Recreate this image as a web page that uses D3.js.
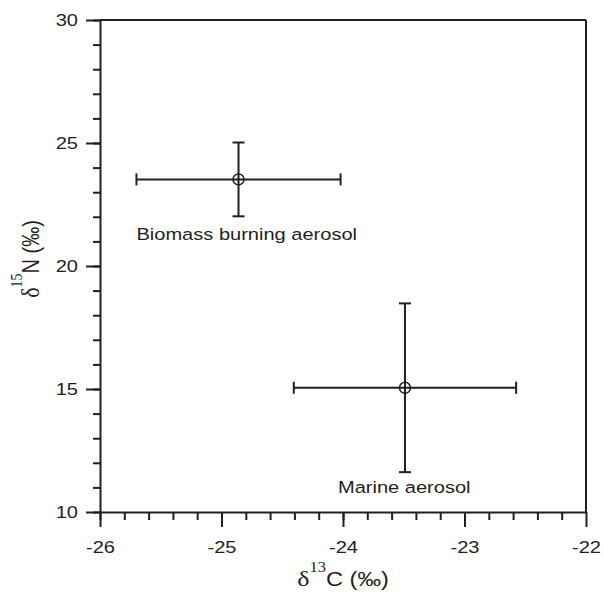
<!DOCTYPE html>
<html>
  <head>
    <script src="https://d3js.org/d3.v7.min.js"></script>
    <style>
      body { margin: 0; background: #fff; }
      text { font-family: "Liberation Sans", Arial, sans-serif; fill: #231f20; }
      .serif { font-family: "Liberation Serif", "Times New Roman", serif; }
    </style>
  </head>
  <body>
    <div id="chart"></div>
    <script>
      // Data
      const groups = ["Biomass burning aerosol", "Marine aerosol"];
      const d13C = [-24.86, -23.49];
      const d13CErr = [0.84, 0.915];
      const d15N = [23.52, 15.05];
      const d15NErr = [1.5, 3.43];

      const xTicks = [-26, -25, -24, -23, -22];
      const yTicks = [10, 15, 20, 25, 30];

      const ink = "#231f20";
      const stretch = 1.18; // text in the reference is slightly wide

      const margin = { top: 20, right: 18, bottom: 80, left: 100 };
      const width = 604 - margin.left - margin.right;
      const height = 592 - margin.top - margin.bottom;

      const svg = d3
        .select("#chart")
        .append("svg")
        .attr("width", 604)
        .attr("height", 592);

      const g = svg.append("g").attr("transform", `translate(${margin.left},${margin.top})`);

      const x = d3.scaleLinear().domain([-26, -22]).range([0, width]);
      const y = d3.scaleLinear().domain([10, 30]).range([height, 0]);

      // minor ticks
      const xMinor = d3.range(-26, -22.0001, 0.2);
      const yMinor = d3.range(10, 30.0001, 1);

      g.append("g")
        .attr("transform", `translate(0,${height})`)
        .call(d3.axisBottom(x).tickValues(xMinor).tickSize(8).tickSizeOuter(0).tickFormat(""))
        .call((a) => a.select(".domain").remove());
      g.append("g")
        .call(d3.axisLeft(y).tickValues(yMinor).tickSize(7).tickSizeOuter(0).tickFormat(""))
        .call((a) => a.select(".domain").remove());

      // major ticks
      const fmt = (d) => String(d);
      const xAxis = g
        .append("g")
        .attr("transform", `translate(0,${height})`)
        .call(d3.axisBottom(x).tickValues(xTicks).tickSize(15).tickSizeOuter(0).tickFormat(fmt));
      const yAxis = g
        .append("g")
        .call(d3.axisLeft(y).tickValues(yTicks).tickSize(14).tickSizeOuter(0).tickFormat(fmt));

      g.selectAll(".tick line, .domain").attr("stroke", ink).attr("stroke-width", 2);

      xAxis
        .selectAll("text")
        .attr("y", null)
        .attr("dy", null)
        .attr("font-size", 17)
        .attr("transform", `translate(0,41) scale(${stretch},1)`);
      yAxis
        .selectAll("text")
        .attr("x", null)
        .attr("dy", "0.35em")
        .attr("font-size", 17)
        .attr("transform", `translate(-22,0) scale(${stretch},1)`);

      // frame top and right
      g.append("line").attr("x1", 0).attr("x2", width).attr("y1", 0).attr("y2", 0)
        .attr("stroke", ink).attr("stroke-width", 2);
      g.append("line").attr("x1", width).attr("x2", width).attr("y1", 0).attr("y2", height)
        .attr("stroke", ink).attr("stroke-width", 2);

      // error bars and points
      const pts = groups.map((name, i) => ({
        name,
        x: d13C[i],
        xe: d13CErr[i],
        y: d15N[i],
        ye: d15NErr[i]
      }));
      const cap = 6;

      const pg = g.selectAll(".pt").data(pts).enter().append("g").attr("class", "pt");
      pg.append("line")
        .attr("x1", (d) => x(d.x - d.xe)).attr("x2", (d) => x(d.x + d.xe))
        .attr("y1", (d) => y(d.y)).attr("y2", (d) => y(d.y));
      pg.append("line")
        .attr("x1", (d) => x(d.x)).attr("x2", (d) => x(d.x))
        .attr("y1", (d) => y(d.y - d.ye)).attr("y2", (d) => y(d.y + d.ye));
      [-1, 1].forEach((s) => {
        pg.append("line")
          .attr("x1", (d) => x(d.x + s * d.xe)).attr("x2", (d) => x(d.x + s * d.xe))
          .attr("y1", (d) => y(d.y) - cap).attr("y2", (d) => y(d.y) + cap);
        pg.append("line")
          .attr("x1", (d) => x(d.x) - cap).attr("x2", (d) => x(d.x) + cap)
          .attr("y1", (d) => y(d.y + s * d.ye)).attr("y2", (d) => y(d.y + s * d.ye));
      });
      pg.selectAll("line").attr("stroke", ink).attr("stroke-width", 2);
      pg.append("circle")
        .attr("cx", (d) => x(d.x)).attr("cy", (d) => y(d.y)).attr("r", 5.5)
        .attr("fill", "none").attr("stroke", ink).attr("stroke-width", 1.5);

      // group labels, placed under each point
      const labelOffset = [
        { dx: (d) => x(d.x - d.xe), dy: 24 },
        { dx: (d) => x(d.x) - 67, dy: 21 }
      ];
      pg.append("text")
        .attr("font-size", 17)
        .attr("transform", (d, i) =>
          `translate(${labelOffset[i].dx(d)},${y(d.y - d.ye) + labelOffset[i].dy}) scale(${stretch},1)`)
        .text((d) => d.name);

      // axis titles
      const xt = svg.append("text")
        .attr("text-anchor", "middle")
        .attr("font-size", 20)
        .attr("transform", `translate(${margin.left + width / 2},586) scale(${stretch},1)`);
      xt.append("tspan").attr("class", "serif").attr("font-size", 22).text("δ");
      xt.append("tspan").attr("class", "serif").attr("font-size", 14).attr("dy", "-1.0em").text("13");
      xt.append("tspan").attr("dy", "0.7em").text("C (‰)");

      const yt = svg.append("text")
        .attr("text-anchor", "middle")
        .attr("font-size", 20)
        .attr("transform", `translate(38.5,${margin.top + 239}) scale(${stretch},1) rotate(-90)`);
      yt.append("tspan").attr("class", "serif").attr("font-size", 22).text("δ");
      yt.append("tspan").attr("class", "serif").attr("font-size", 14).attr("dy", "-1.0em").text("15");
      yt.append("tspan").attr("dy", "0.7em").text("N (‰)");
    </script>
  </body>
</html>
